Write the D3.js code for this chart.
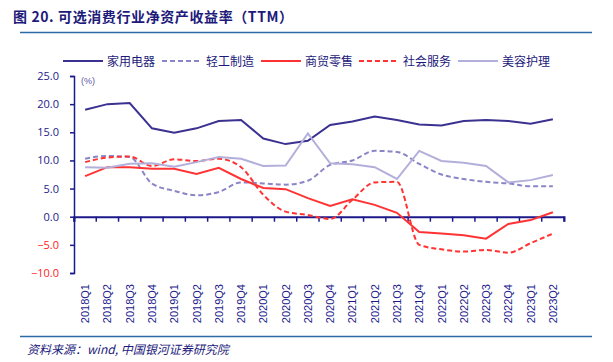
<!DOCTYPE html>
<html>
<head>
<meta charset="utf-8">
<script src="https://cdn.jsdelivr.net/npm/d3@7"></script>
<style>
  body { margin: 0; background: #fff; }
  svg { display: block; }
</style>
</head>
<body>
<svg id="chart" width="613" height="362"></svg>
<script>
const quarters = ["2018Q1","2018Q2","2018Q3","2018Q4","2019Q1","2019Q2","2019Q3","2019Q4",
  "2020Q1","2020Q2","2020Q3","2020Q4","2021Q1","2021Q2","2021Q3","2021Q4",
  "2022Q1","2022Q2","2022Q3","2022Q4","2023Q1","2023Q2"];

const appliances = [19.0, 20.0, 20.2, 15.7, 14.9, 15.7, 17.0, 17.2, 13.9, 12.9, 13.5, 16.3,
  16.9, 17.8, 17.2, 16.4, 16.2, 17.0, 17.2, 17.0, 16.5, 17.3];
const lightIndustry = [10.3, 10.8, 10.6, 5.9, 4.6, 3.8, 4.4, 6.1, 5.9, 5.7, 6.4, 9.2,
  10.0, 11.7, 11.5, 9.4, 7.5, 6.7, 6.2, 5.9, 5.4, 5.4];
const retail = [7.2, 8.8, 8.8, 8.5, 8.5, 7.6, 8.7, 6.7, 5.1, 4.9, 3.3, 1.9,
  3.1, 2.1, 0.7, -2.7, -3.0, -3.3, -3.9, -1.3, -0.6, 0.8];
const socialServices = [9.7, 10.5, 10.7, 9.0, 10.2, 9.9, 10.3, 8.8, 3.9, 0.9, 0.3, -0.4,
  3.0, 6.1, 6.2, -5.0, -5.8, -6.2, -5.9, -6.4, -4.7, -3.0];
const beauty = [8.8, 8.7, 9.4, 9.5, 8.9, 9.7, 10.6, 10.3, 9.0, 9.1, 14.8, 9.5,
  9.3, 8.8, 6.7, 11.7, 9.9, 9.6, 9.0, 6.1, 6.5, 7.4];

const yTicks = [-10, -5, 0, 5, 10, 15, 20, 25];

const series = [
  { name: "家用电器", values: appliances, color: "#3a3190", dash: null, smooth: false },
  { name: "轻工制造", values: lightIndustry, color: "#8a85c6", dash: "5,3", smooth: true },
  { name: "商贸零售", values: retail, color: "#ff3333", dash: null, smooth: false },
  { name: "社会服务", values: socialServices, color: "#ff3333", dash: "5,3", smooth: true },
  { name: "美容护理", values: beauty, color: "#b3afdb", dash: null, smooth: false }
];

const svg = d3.select("#chart");
const axisColor = "#1c1a8a";
const plotLeft = 74, plotRight = 564, plotTop = 76, plotBottom = 273;

const x = d3.scaleBand().domain(quarters).range([plotLeft, plotRight]);
const y = d3.scaleLinear().domain([-10, 25]).range([plotBottom, plotTop]);

// title
svg.append("text")
  .attr("x", 13).attr("y", 22)
  .attr("font-family", "'Noto Sans CJK SC', sans-serif")
  .attr("font-size", "14px").attr("font-weight", "bold")
  .attr("letter-spacing", "0.6px")
  .attr("fill", "#1c1a7a")
  .text("图 20. 可选消费行业净资产收益率（TTM）");

svg.append("line")
  .attr("x1", 20).attr("x2", 592).attr("y1", 32.5).attr("y2", 32.5)
  .attr("stroke", "#2e6aa6").attr("stroke-width", 1.5);

// legend
const legendX = [63, 162, 261, 359, 458];
series.forEach((s, i) => {
  const g = svg.append("g").attr("transform", `translate(${legendX[i]},61)`);
  g.append("line")
    .attr("x1", 0).attr("x2", 40).attr("y1", 0).attr("y2", 0)
    .attr("stroke", s.color).attr("stroke-width", 2)
    .attr("stroke-dasharray", s.dash);
  g.append("text")
    .attr("x", 44).attr("y", 4.5)
    .attr("font-family", "'Noto Sans CJK SC', sans-serif")
    .attr("font-size", "12px").attr("fill", "#1c1a7a")
    .text(s.name);
});

svg.append("text")
  .attr("x", 81).attr("y", 84)
  .attr("font-family", "Arial, 'Liberation Sans', sans-serif")
  .attr("font-size", "9px").attr("fill", "#5a57a8")
  .text("(%)");

// y axis
const yAxis = svg.append("g")
  .attr("transform", `translate(${plotLeft},0)`)
  .call(d3.axisLeft(y).tickValues(yTicks).tickSize(4).tickFormat(d3.format(".1f")));
yAxis.select(".domain").attr("stroke", axisColor).attr("stroke-width", 1.5);
yAxis.selectAll(".tick line").attr("stroke", axisColor).attr("stroke-width", 1.5);
yAxis.selectAll(".tick text")
  .attr("x", -15)
  .attr("font-family", "'Open Sans', 'DejaVu Sans', sans-serif")
  .attr("font-size", "11px")
  .attr("fill", d => d < 0 ? "#ff2020" : axisColor);

// x axis at zero
const xAxis = svg.append("g")
  .attr("transform", `translate(0,${y(0)})`)
  .call(d3.axisBottom(x).tickSize(5).tickSizeOuter(5));
xAxis.select(".domain").attr("stroke", axisColor).attr("stroke-width", 2);
xAxis.selectAll(".tick line")
  .attr("stroke", axisColor).attr("stroke-width", 1.5)
  .attr("transform", `translate(${-x.bandwidth() / 2},0)`);
xAxis.selectAll(".tick text").remove();
xAxis.append("line")
  .attr("x1", plotRight).attr("x2", plotRight).attr("y1", 0).attr("y2", 5)
  .attr("stroke", axisColor).attr("stroke-width", 1.5);

// rotated category labels
svg.append("g").selectAll("text")
  .data(quarters)
  .join("text")
  .attr("transform", d => `translate(${x(d) + x.bandwidth() / 2 + 4},284) rotate(-90)`)
  .attr("text-anchor", "end")
  .attr("font-family", "'Liberation Sans', Arial, sans-serif")
  .attr("font-size", "11px")
  .attr("fill", axisColor)
  .text(d => d);

// lines
series.forEach(s => {
  const line = d3.line()
    .x((d, i) => x(quarters[i]) + x.bandwidth() / 2)
    .y(d => y(d))
    .curve(s.smooth ? d3.curveMonotoneX : d3.curveLinear);
  svg.append("path")
    .datum(s.values)
    .attr("d", line)
    .attr("fill", "none")
    .attr("stroke", s.color)
    .attr("stroke-width", 2)
    .attr("stroke-dasharray", s.dash);
});

// source
svg.append("line")
  .attr("x1", 20).attr("x2", 592).attr("y1", 336.5).attr("y2", 336.5)
  .attr("stroke", "#2e6aa6").attr("stroke-width", 1.5);
svg.append("text")
  .attr("x", 27).attr("y", 354)
  .attr("font-family", "'Noto Sans CJK SC', serif")
  .attr("font-size", "12px").attr("font-style", "italic")
  .attr("fill", "#1c1a7a")
  .text("资料来源：wind, 中国银河证券研究院");
</script>
</body>
</html>
